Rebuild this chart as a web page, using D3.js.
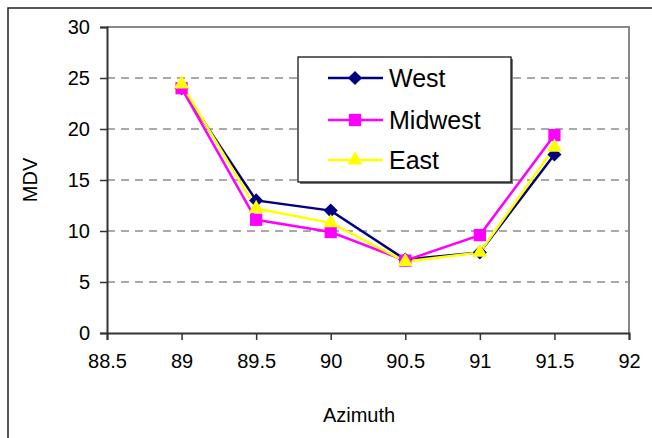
<!DOCTYPE html>
<html><head><meta charset="utf-8">
<script src="https://cdn.jsdelivr.net/npm/d3@7"></script>
<style>html,body{margin:0;padding:0;background:#fff;}svg{display:block;font-family:Arial,"Liberation Sans",sans-serif;}</style>
</head><body>
<svg id="c" width="652" height="438"></svg>
<script>
const azimuth = [89, 89.5, 90, 90.5, 91, 91.5];
const west = [24, 13, 12, 7.2, 7.9, 17.5];
const midwest = [24, 11.1, 9.9, 7.1, 9.6, 19.4];
const east = [24.4, 12.2, 10.8, 7.0, 7.9, 18.2];
const xTicks = [88.5, 89, 89.5, 90, 90.5, 91, 91.5, 92];
const yTicks = [0, 5, 10, 15, 20, 25, 30];
const seriesNames = ["West", "Midwest", "East"];

const symbolRhombus = {
  draw(ctx, size) {
    const r = Math.sqrt(size / 2);
    ctx.moveTo(0, -r); ctx.lineTo(r, 0); ctx.lineTo(0, r); ctx.lineTo(-r, 0); ctx.closePath();
  }
};

const series = [
  {name: seriesNames[0], values: west, color: "#000080", symbol: symbolRhombus, size: 100},
  {name: seriesNames[1], values: midwest, color: "#FF00FF", symbol: d3.symbolSquare, size: 150},
  {name: seriesNames[2], values: east, color: "#FFFF00", symbol: d3.symbolTriangle, size: 100}
];

const svg = d3.select("#c");
const L = 107, R = 629, T = 27, B = 333;
const x = d3.scaleLinear().domain([88.5, 92]).range([L, R]);
const y = d3.scaleLinear().domain([0, 30]).range([B, T]);

// outer border
svg.append("rect").attr("x", 8).attr("y", 8).attr("width", 700).attr("height", 500)
  .attr("fill", "none").attr("stroke", "#222").attr("stroke-width", 1.5);

// gridlines
svg.append("g").selectAll("line").data(yTicks.filter(v => v > 0 && v < 30)).join("line")
  .attr("x1", L).attr("x2", R).attr("y1", d => y(d)).attr("y2", d => y(d))
  .attr("stroke", "#555").attr("stroke-width", 1).attr("stroke-dasharray", "8,6");

// plot border top/right
svg.append("path").attr("d", `M${L},${T}H${R}V${B}`).attr("fill", "none")
  .attr("stroke", "#888").attr("stroke-width", 2);

// axes
const yAxis = d3.axisLeft(y).tickValues(yTicks).tickSize(7).tickPadding(10).tickFormat(d3.format("d"));
const gy = svg.append("g").attr("transform", `translate(${L},0)`).call(yAxis);
const xAxis = d3.axisBottom(x).tickValues(xTicks).tickSize(7).tickPadding(14).tickFormat(d => String(d));
const gx = svg.append("g").attr("transform", `translate(0,${B})`).call(xAxis);
[gx, gy].forEach(g => {
  g.select(".domain").attr("stroke", "#333").attr("stroke-width", 2);
  g.selectAll(".tick line").attr("stroke", "#333").attr("stroke-width", 1.5);
  g.selectAll(".tick text").attr("font-size", 20).attr("fill", "#000").attr("font-family", "Arial, 'Liberation Sans', sans-serif");
});

// axis titles
svg.append("text").attr("x", 359).attr("y", 422).attr("text-anchor", "middle")
  .attr("font-size", 20).text("Azimuth");
svg.append("text").attr("transform", "translate(37,180) rotate(-90)").attr("text-anchor", "middle")
  .attr("font-size", 20).text("MDV");

// series
const line = d3.line().x((d, i) => x(azimuth[i])).y(d => y(d));
series.forEach(s => {
  svg.append("path").datum(s.values).attr("d", line).attr("fill", "none")
    .attr("stroke", s.color).attr("stroke-width", 2.5);
});
series.forEach(s => {
  svg.append("g").selectAll("path").data(s.values).join("path")
    .attr("transform", (d, i) => `translate(${x(azimuth[i])},${y(d)})`)
    .attr("d", d3.symbol().type(s.symbol).size(s.size)).attr("fill", s.color);
});

// legend
const lg = svg.append("g");
lg.append("rect").attr("x", 300).attr("y", 59).attr("width", 213).attr("height", 125).attr("fill", "#777");
lg.append("rect").attr("x", 298).attr("y", 57).attr("width", 213).attr("height", 125)
  .attr("fill", "#fff").attr("stroke", "#000").attr("stroke-width", 1.2);
const rows = [78, 120, 160];
series.forEach((s, i) => {
  lg.append("line").attr("x1", 328).attr("x2", 383).attr("y1", rows[i]).attr("y2", rows[i])
    .attr("stroke", s.color).attr("stroke-width", 2.5);
  lg.append("path").attr("transform", `translate(355,${rows[i]})`)
    .attr("d", d3.symbol().type(s.symbol).size(s.size)).attr("fill", s.color);
  lg.append("text").attr("x", 389).attr("y", rows[i] + 9).attr("font-size", 25).text(s.name);
});
</script>
</body></html>
